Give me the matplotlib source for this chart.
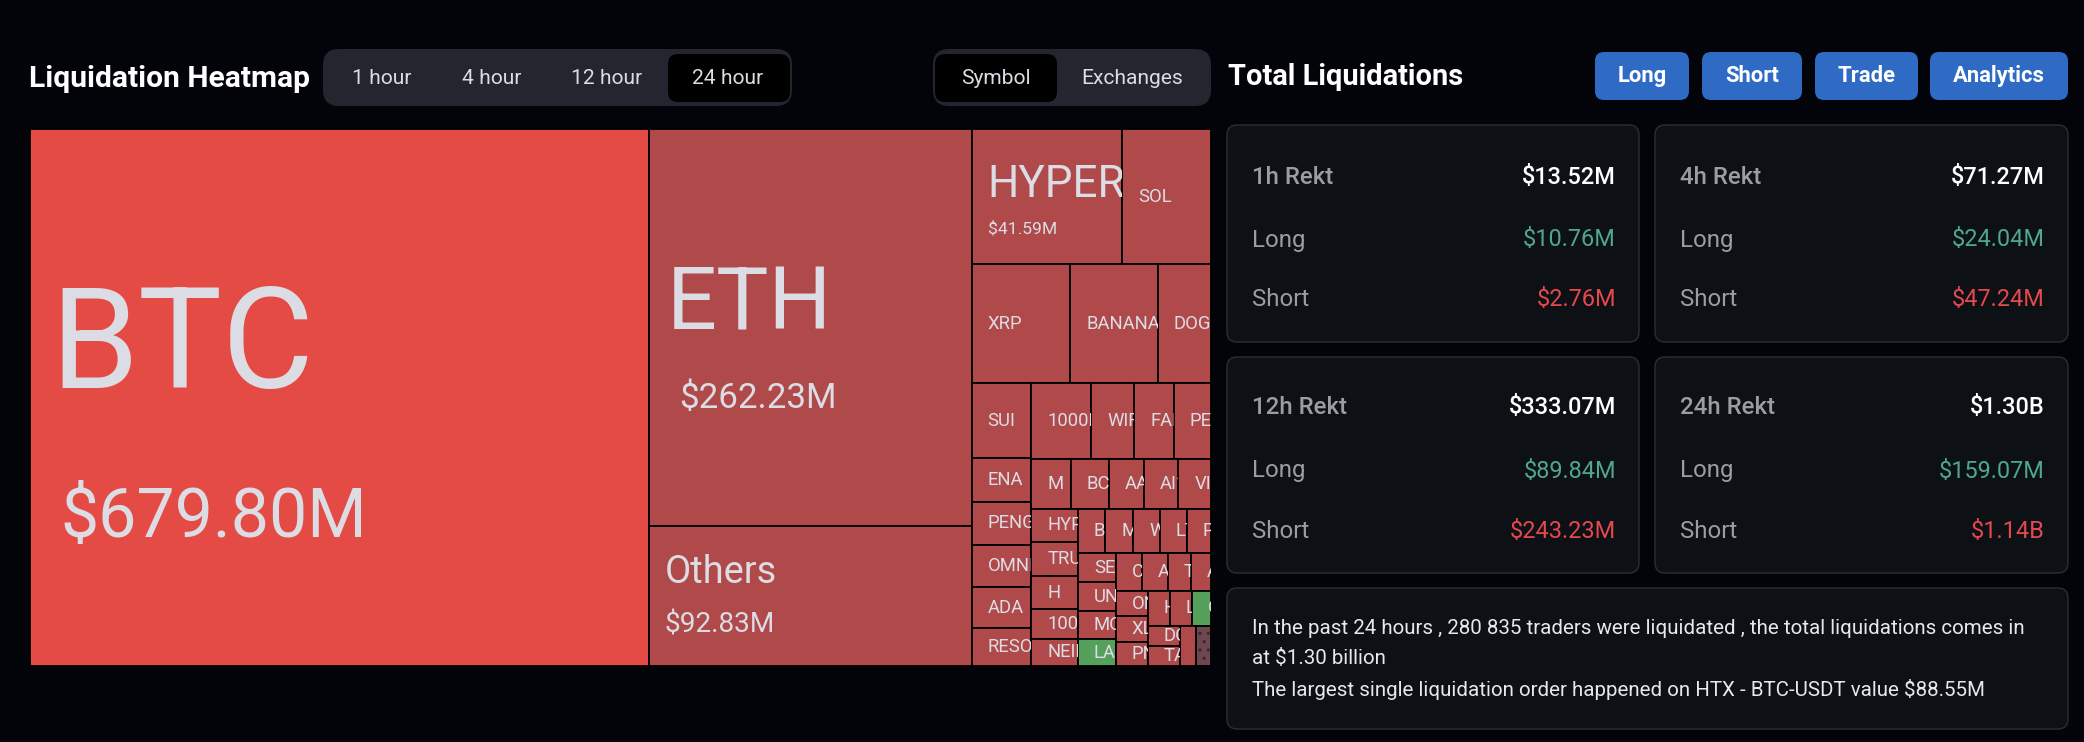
#!/usr/bin/env python3

"""Liquidation heatmap dashboard: treemap on the left, totals cards on the right."""

import matplotlib
matplotlib.use('Agg')  # Headless backend
import matplotlib.pyplot as plt
from matplotlib.patches import FancyBboxPatch, Rectangle

plt.rcParams['font.family'] = ['Roboto', 'DejaVu Sans']
plt.rcParams['hatch.linewidth'] = 1.2

W, H = 2084, 742
BG = '#02040a'
CARD = '#0d1015'
CARD_EDGE = '#2b2e35'
RED = '#b04a4a'
TOP_RED = '#e54b45'
GREEN_CELL = '#55a05a'
DOTTED = '#6e4750'
LABEL = '#dcdce4'
UP = '#4fa88e'
DOWN = '#e5484d'
BLUE = '#2f6bc4'

# Small cells cut their names off, so only the first letters of those names can be seen
symbols = ['BTC', 'ETH', 'Others', 'HYPER', 'SOL', 'XRP', 'BANANA', 'DOGE',
           'SUI', 'ENA', 'PENGU', 'OMNI', 'ADA', 'RESOLV',
           '1000PEPE', 'WIF', 'FARTCOIN', 'PEPE',
           'M', 'BCH', 'AAVE', 'AI16Z', 'VIRTUAL',
           'HYPE', 'TRUMP', 'H', '1000BONK', 'NEIRO',
           'BNB', 'MKR', 'WLD', 'LTC', 'POPCAT',
           'SEI', 'UNI', 'MOODENG', 'LAUNCH',
           'CRV', 'ARB', 'TIA', 'AVAX',
           'ONDO', 'XLM', 'PNUT',
           'HBAR', 'LINK', 'GALA',
           'DOT', 'TAO', 'NEAR', 'OP']
values = [679.80, 262.23, 92.83, 41.59, 24.6, 24.0, 21.3, 13.0,
          9.2, 5.27, 5.22, 5.22, 4.97, 4.62,
          9.25, 6.65, 6.13, 5.77,
          4.08, 3.91, 3.63, 3.53, 3.35,
          3.19, 3.26, 3.12, 2.85, 2.62,
          2.50, 2.53, 2.40, 2.43, 2.19,
          2.29, 2.24, 2.18, 2.07,
          2.03, 1.98, 1.83, 1.54,
          1.67, 1.65, 1.59,
          1.59, 1.57, 1.38,
          1.34, 1.30, 1.32, 1.21]
green_symbols = ['LAUNCH', 'GALA']
unlabelled = ['NEAR', 'OP']
dotted_symbols = ['OP']

# how the cells nest: 'h' splits left to right, 'v' top to bottom
nesting = ['h', 'BTC',
           ['v', 'ETH', 'Others'],
           ['v',
            ['h', 'HYPER', 'SOL'],
            ['h', 'XRP', 'BANANA', 'DOGE'],
            ['h',
             ['v', 'SUI', 'ENA', 'PENGU', 'OMNI', 'ADA', 'RESOLV'],
             ['v',
              ['h', '1000PEPE', 'WIF', 'FARTCOIN', 'PEPE'],
              ['h', 'M', 'BCH', 'AAVE', 'AI16Z', 'VIRTUAL'],
              ['h',
               ['v', 'HYPE', 'TRUMP', 'H', '1000BONK', 'NEIRO'],
               ['v',
                ['h', 'BNB', 'MKR', 'WLD', 'LTC', 'POPCAT'],
                ['h',
                 ['v', 'SEI', 'UNI', 'MOODENG', 'LAUNCH'],
                 ['v',
                  ['h', 'CRV', 'ARB', 'TIA', 'AVAX'],
                  ['h',
                   ['v', 'ONDO', 'XLM', 'PNUT'],
                   ['v',
                    ['h', 'HBAR', 'LINK', 'GALA'],
                    ['h', ['v', 'DOT', 'TAO'], 'NEAR', 'OP']]]]]]]]]]]

# text panels
range_tabs = ['1 hour', '4 hour', '12 hour', '24 hour']
view_tabs = ['Symbol', 'Exchanges']
action_buttons = ['Long', 'Short', 'Trade', 'Analytics']
card_titles = ['1h Rekt', '4h Rekt', '12h Rekt', '24h Rekt']
card_totals = ['$13.52M', '$71.27M', '$333.07M', '$1.30B']
card_longs = ['$10.76M', '$24.04M', '$89.84M', '$159.07M']
card_shorts = ['$2.76M', '$47.24M', '$243.23M', '$1.14B']
info_lines = ['In the past 24 hours , 280 835 traders were liquidated , the total liquidations comes in',
              'at $1.30 billion',
              'The largest single liquidation order happened on HTX - BTC-USDT value $88.55M']

value_of = dict(zip(symbols, values))
printed = {'BTC': '$679.80M', 'ETH': '$262.23M', 'Others': '$92.83M', 'HYPER': '$41.59M'}
# name px, value px, name y and value y as a share of the cell height, name pad, value pad
big_labels = {'BTC': (141, 68, 0.41, 0.725, 20, 30),
              'ETH': (88, 35, 0.445, 0.68, 18, 31),
              'Others': (38, 28, 0.337, 0.71, 16, 16),
              'HYPER': (44, 17.5, 0.416, 0.74, 16, 16)}


def pt(px):
    return px * 72 / 100


def total(node):
    if isinstance(node, str):
        return value_of[node]
    return sum(total(child) for child in node[1:])


def layout(node, x, y, w, h, cells):
    if isinstance(node, str):
        cells.append((node, x, y, w, h))
        return
    whole = total(node)
    for child in node[1:]:
        share = total(child) / whole
        if node[0] == 'h':
            layout(child, x, y, w * share, h, cells)
            x += w * share
        else:
            layout(child, x, y, w, h * share, cells)
            y += h * share


def rounded(ax, x0, y0, x1, y1, radius, face, edge='none', lw=1.0):
    box = FancyBboxPatch((x0 + radius, y0 + radius), x1 - x0 - 2 * radius, y1 - y0 - 2 * radius,
                         boxstyle=f'round,pad={radius},rounding_size={radius}',
                         facecolor=face, edgecolor=edge, linewidth=lw)
    ax.add_patch(box)


def cell_text(ax, rect, x, y, right, text, px):
    # drop the letters that start past the cell edge, the clip cuts the last one
    t = ax.text(x, y, text, color=LABEL, fontsize=pt(px), va='center', clip_on=True)
    t.set_clip_path(rect)
    renderer = ax.figure.canvas.get_renderer()
    for n in range(1, len(text)):
        t.set_text(text[:n])
        if t.get_window_extent(renderer).x1 >= right:
            break
    else:
        t.set_text(text)


fig = plt.figure(figsize=(W / 100, H / 100), dpi=100, facecolor=BG)
ax = fig.add_axes([0, 0, 1, 1])
ax.set_xlim(0, W)
ax.set_ylim(H, 0)
ax.axis('off')

# header, left
ax.text(29, 79, 'Liquidation Heatmap', color='white', fontsize=pt(30), fontweight='bold', va='center')
rounded(ax, 323, 49, 792, 106, 16, '#23262e')
rounded(ax, 668, 54, 790, 102, 10, 'black')
for label, cx in zip(range_tabs, [382, 492, 607, 728]):
    ax.text(cx, 78, label, color=LABEL, fontsize=pt(21), ha='center', va='center')
rounded(ax, 933, 49, 1211, 106, 16, '#23262e')
rounded(ax, 935, 54, 1057, 102, 10, 'black')
for label, cx in zip(view_tabs, [996, 1132]):
    ax.text(cx, 78, label, color=LABEL, fontsize=pt(21), ha='center', va='center')

# treemap
cells = []
layout(nesting, 30, 129, 1181, 537, cells)
top = max(values)
for name, x, y, w, h in cells:
    color = RED
    if name in green_symbols:
        color = GREEN_CELL
    elif value_of[name] == top:
        color = TOP_RED
    rect = Rectangle((x, y), w, h, facecolor=color, edgecolor='black', linewidth=1.3)
    ax.add_patch(rect)
    if name in dotted_symbols:
        rect.set_facecolor(DOTTED)
        rect.set_hatch('..')
        rect.set_edgecolor('#3a2a30')
        ax.add_patch(Rectangle((x, y), w, h, fill=False, edgecolor='black', linewidth=1.3))
    if name in unlabelled:
        continue
    if name in big_labels:
        name_px, value_px, name_y, value_y, name_pad, value_pad = big_labels[name]
        cell_text(ax, rect, x + name_pad, y + h * name_y, x + w, name, name_px)
        cell_text(ax, rect, x + value_pad, y + h * value_y, x + w, printed[name], value_px)
    else:
        cell_text(ax, rect, x + 16, y + h / 2, x + w, name, 18.5)

# header, right
ax.text(1228, 77, 'Total Liquidations', color='white', fontsize=pt(29), fontweight='bold', va='center')
for label, (x0, x1) in zip(action_buttons, [(1595, 1689), (1702, 1802), (1815, 1918), (1930, 2068)]):
    rounded(ax, x0, 52, x1, 100, 9, BLUE)
    ax.text((x0 + x1) / 2, 76, label, color='white', fontsize=pt(22), fontweight='bold', ha='center', va='center')

# four cards
card_x = [(1227, 1639), (1655, 2068), (1227, 1639), (1655, 2068)]
card_y = [(125, 342), (125, 342), (357, 573), (357, 573)]
row_y = [[178, 240, 300], [178, 240, 300], [408, 471, 531], [408, 471, 531]]
for i in range(4):
    x0, x1 = card_x[i]
    y0, y1 = card_y[i]
    rounded(ax, x0, y0, x1, y1, 10, CARD, CARD_EDGE, 1.0)
    rows = [(card_titles[i], card_totals[i], 'white'),
            ('Long', card_longs[i], UP),
            ('Short', card_shorts[i], DOWN)]
    for (left, right, color), y in zip(rows, row_y[i]):
        weight = 'medium' if left == card_titles[i] else 'normal'
        ax.text(x0 + 25, y, left, color='#9a9da3', fontsize=pt(24), fontweight=weight, va='center')
        ax.text(x1 - 23, y, right, color=color, fontsize=pt(23.5), fontweight=weight, ha='right', va='center')

# summary card
rounded(ax, 1227, 588, 2068, 729, 10, CARD, CARD_EDGE, 1.0)
for line, y in zip(info_lines, [628, 659, 689]):
    ax.text(1252, y, line, color='#e8e8ec', fontsize=pt(20.5), va='center')

fig.savefig('out.png', dpi=100, facecolor=BG)
